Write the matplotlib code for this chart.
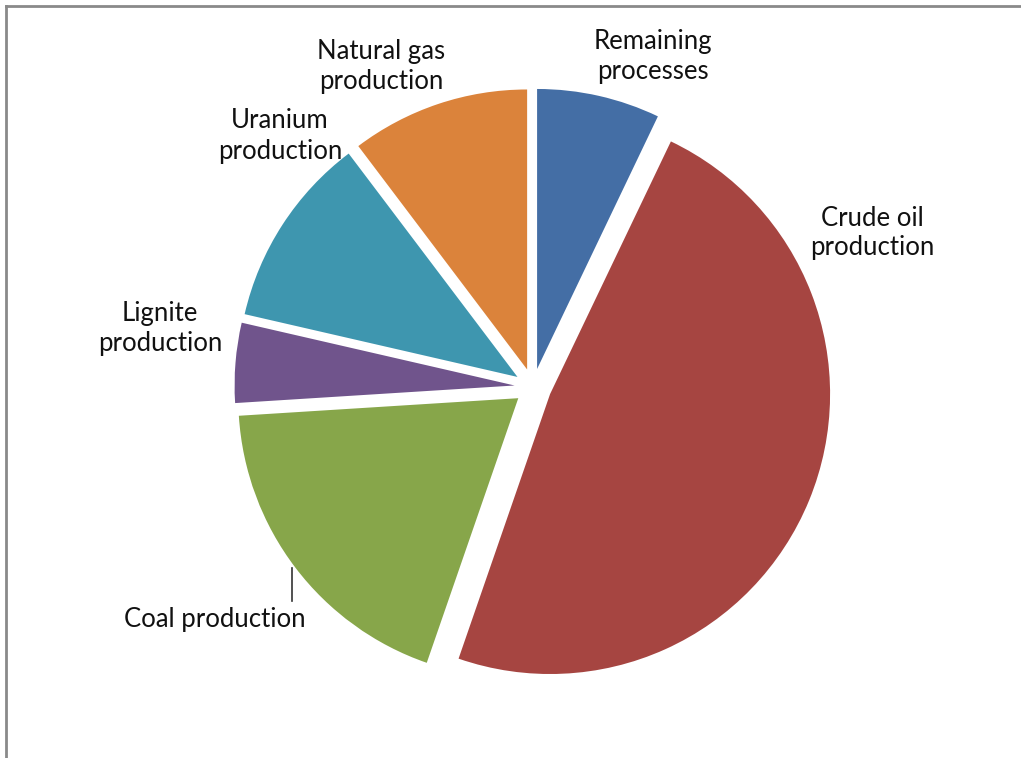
import numpy as np
import matplotlib.pyplot as plt
from matplotlib.lines import Line2D

# shares of each process (percent), clockwise from 12 o'clock
labels = ['Remaining\nprocesses', 'Crude oil\nproduction', 'Coal production',
          'Lignite\nproduction', 'Uranium\nproduction', 'Natural gas\nproduction']
shares = [7.1, 48.2, 18.7, 4.6, 11.1, 10.3]
colors = ['#446EA5', '#A64541', '#87A64A', '#70548C', '#3E96AF', '#DB833B']

# label anchor points in pixels (x, y from top)
label_px = [(653, 56), (872, 233), (215, 620), (160, 328), (280, 136), (381, 66)]

W, H = 1021, 758
cx, cy, R = 533, 387, 280


def to_data(px, py):
    return (px - cx) / R, (cy - py) / R


fig = plt.figure(figsize=(W / 100, H / 100), dpi=100)
ax = fig.add_axes([0, 0, 1, 1])

ax.pie(shares, colors=colors, startangle=90, counterclock=False,
       explode=[0.066] * len(shares), radius=1.0,
       wedgeprops=dict(linewidth=0))

# pie() resets the limits, so set them afterwards
ax.set_aspect('auto')
ax.set_xlim(-cx / R, (W - cx) / R)
ax.set_ylim((cy - H) / R, cy / R)
ax.axis('off')

for lab, (px, py) in zip(labels, label_px):
    x, y = to_data(px, py)
    ax.text(x, y, lab, ha='center', va='center', fontsize=18.5,
            family='Lato', color='#111111', linespacing=1.25)

# leader line for coal label
x0, y0 = to_data(292, 568)
x1, y1 = to_data(292, 601)
ax.plot([x0, x1], [y0, y1], color='#333333', lw=1.2)

# frame remnants (top and left)
fig.add_artist(Line2D([6 / W, 1], [1 - 6 / H, 1 - 6 / H], color='#8a8a8a', lw=2))
fig.add_artist(Line2D([6 / W, 6 / W], [0, 1 - 6 / H], color='#8a8a8a', lw=2))

fig.savefig('out.png', dpi=100, facecolor='white')
